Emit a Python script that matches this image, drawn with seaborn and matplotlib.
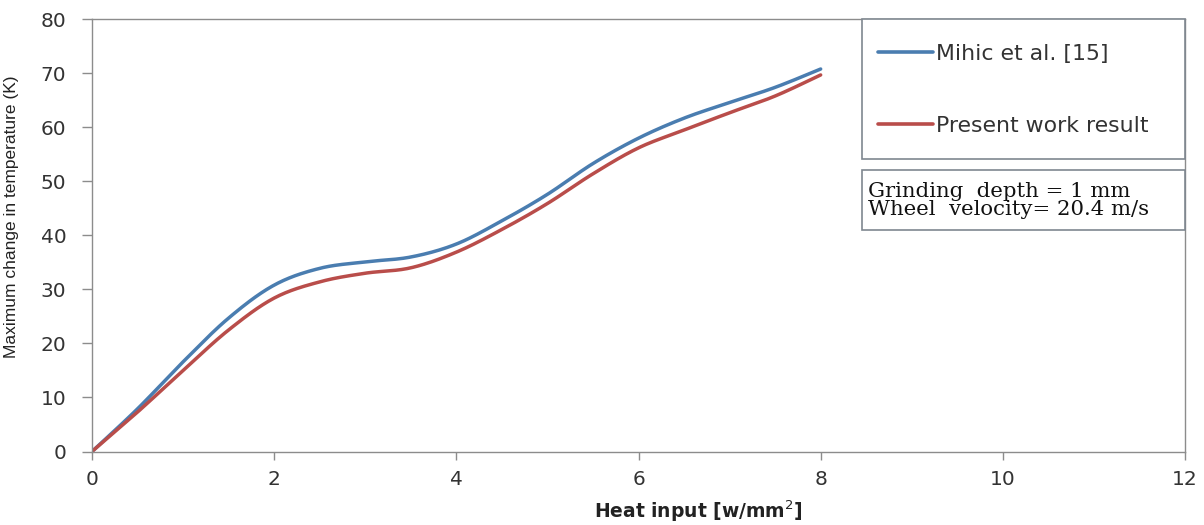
import numpy as np
import pandas as pd
import matplotlib
matplotlib.use("Agg")
import matplotlib.pyplot as plt
from matplotlib.patches import Rectangle
import seaborn as sns

# Heat input (W/mm^2) and maximum temperature rise (K) for both studies
heat_input = [0, 0.5, 1, 1.5, 2, 2.5, 3, 3.5, 4, 4.5, 5, 5.5, 6, 6.5, 7, 7.5, 8]
mihic = [0, 7.9, 16.6, 24.7, 30.8, 33.9, 35.1, 36.0, 38.4, 42.7, 47.6, 53.3,
         58.0, 61.7, 64.6, 67.4, 70.8]
present = [0, 7.3, 15.0, 22.5, 28.4, 31.4, 33.0, 34.0, 36.9, 41.1, 45.9, 51.4,
           56.2, 59.5, 62.7, 65.8, 69.7]
series_names = ["Mihic et al. [15]", "Present work result"]
series_colors = ["#4a7db0", "#b94d4a"]
x_ticks = [0, 2, 4, 6, 8, 10, 12]
y_ticks = [0, 10, 20, 30, 40, 50, 60, 70, 80]
note_lines = ["Grinding  depth = 1 mm", "Wheel  velocity= 20.4 m/s"]


def smooth_path(xs, ys, steps=24):
    """Spreadsheet-style smoothed line: Catmull-Rom curve through every point."""
    p = np.column_stack([xs, ys]).astype(float)
    p = np.vstack([p[0], p, p[-1]])
    out = []
    t = np.linspace(0, 1, steps, endpoint=False)[:, None]
    for i in range(1, len(p) - 2):
        p0, p1, p2, p3 = p[i - 1], p[i], p[i + 1], p[i + 2]
        seg = 0.5 * ((2 * p1) + (-p0 + p2) * t + (2 * p0 - 5 * p1 + 4 * p2 - p3) * t ** 2
                     + (-p0 + 3 * p1 - 3 * p2 + p3) * t ** 3)
        out.append(seg)
    out.append(p[-2][None, :])
    out = np.vstack(out)
    return out[:, 0], out[:, 1]


frames = []
for name, vals in zip(series_names, [mihic, present]):
    sx, sy = smooth_path(heat_input, vals)
    frames.append(pd.DataFrame({"heat": sx, "dT": sy, "series": name}))
df = pd.concat(frames, ignore_index=True)

sns.set_style("white")
plt.rcParams["font.family"] = ["DejaVu Sans"]

W, H = 1204, 525
fig = plt.figure(figsize=(W / 100, H / 100), dpi=100)
x0, x1, ytop, ybot = 92, 1185, 19.3, 451.5
ax = fig.add_axes([x0 / W, 1 - ybot / H, (x1 - x0) / W, (ybot - ytop) / H])

sns.lineplot(data=df, x="heat", y="dT", hue="series", palette=series_colors,
             linewidth=2.5, ax=ax, legend=False, sort=False)
for ln in ax.lines:
    ln.set_solid_joinstyle("round")
    ln.set_solid_capstyle("round")

ax.set_xlim(0, 12)
ax.set_ylim(0, 80)
ax.set_xticks(x_ticks)
ax.set_yticks(y_ticks)

spine_col = "#8c8c8c"
for s in ax.spines.values():
    s.set_visible(True)
    s.set_color(spine_col)
    s.set_linewidth(1.0)

ax.tick_params(axis="y", direction="out", length=7.5, width=1.0, color=spine_col,
               labelsize=14.5, labelcolor="#333333", pad=11, left=True)
ax.tick_params(axis="x", direction="out", length=6, width=1.0, color=spine_col,
               labelsize=14.5, labelcolor="#333333", pad=7, bottom=True)

ax.set_xlabel("Heat input [w/mm$^2$]", fontsize=13.5, fontweight="bold", color="#222222")
ax.xaxis.set_label_coords((698 - x0) / (x1 - x0), (ybot - 499) / (ybot - ytop))
ax.set_ylabel("Maximum change in temperature (K)", fontsize=12.5, color="#222222",
              family=["Liberation Sans", "DejaVu Sans"])
ax.yaxis.set_label_coords((19 - x0) / (x1 - x0), (ybot - 217) / (ybot - ytop))


def fig_rect(px0, py0, px1, py1, **kw):
    return Rectangle((px0 / W, 1 - py1 / H), (px1 - px0) / W, (py1 - py0) / H,
                     transform=fig.transFigure, fill=True, facecolor="white", **kw)


# legend frame and annotation frame
fig.add_artist(fig_rect(862, 19.3, 1185, 159, edgecolor="#7f8790", linewidth=1.2))
fig.add_artist(fig_rect(862, 170, 1185, 229.5, edgecolor="#7f8790", linewidth=1.2))

fs = 15.8
fs_px = fs * 100 / 72
handles = [plt.Line2D([], [], color=c, linewidth=2.6) for c in series_colors]
leg = fig.legend(handles, series_names, loc="upper left",
                 bbox_to_anchor=(878 / W, 1 - 44 / H),
                 bbox_transform=fig.transFigure, frameon=False, fontsize=fs,
                 handlelength=55 / fs_px, handletextpad=3 / fs_px,
                 labelspacing=2.35, borderpad=0, borderaxespad=0)
for t in leg.get_texts():
    t.set_color("#333333")

for i, line in enumerate(note_lines):
    fig.text(868 / W, 1 - (196.7 + 18.3 * i) / H, line, fontsize=15.3,
             family=["DejaVu Serif"], color="#111111",
             va="baseline", ha="left")

fig.savefig("out.png", dpi=100, facecolor="white")
